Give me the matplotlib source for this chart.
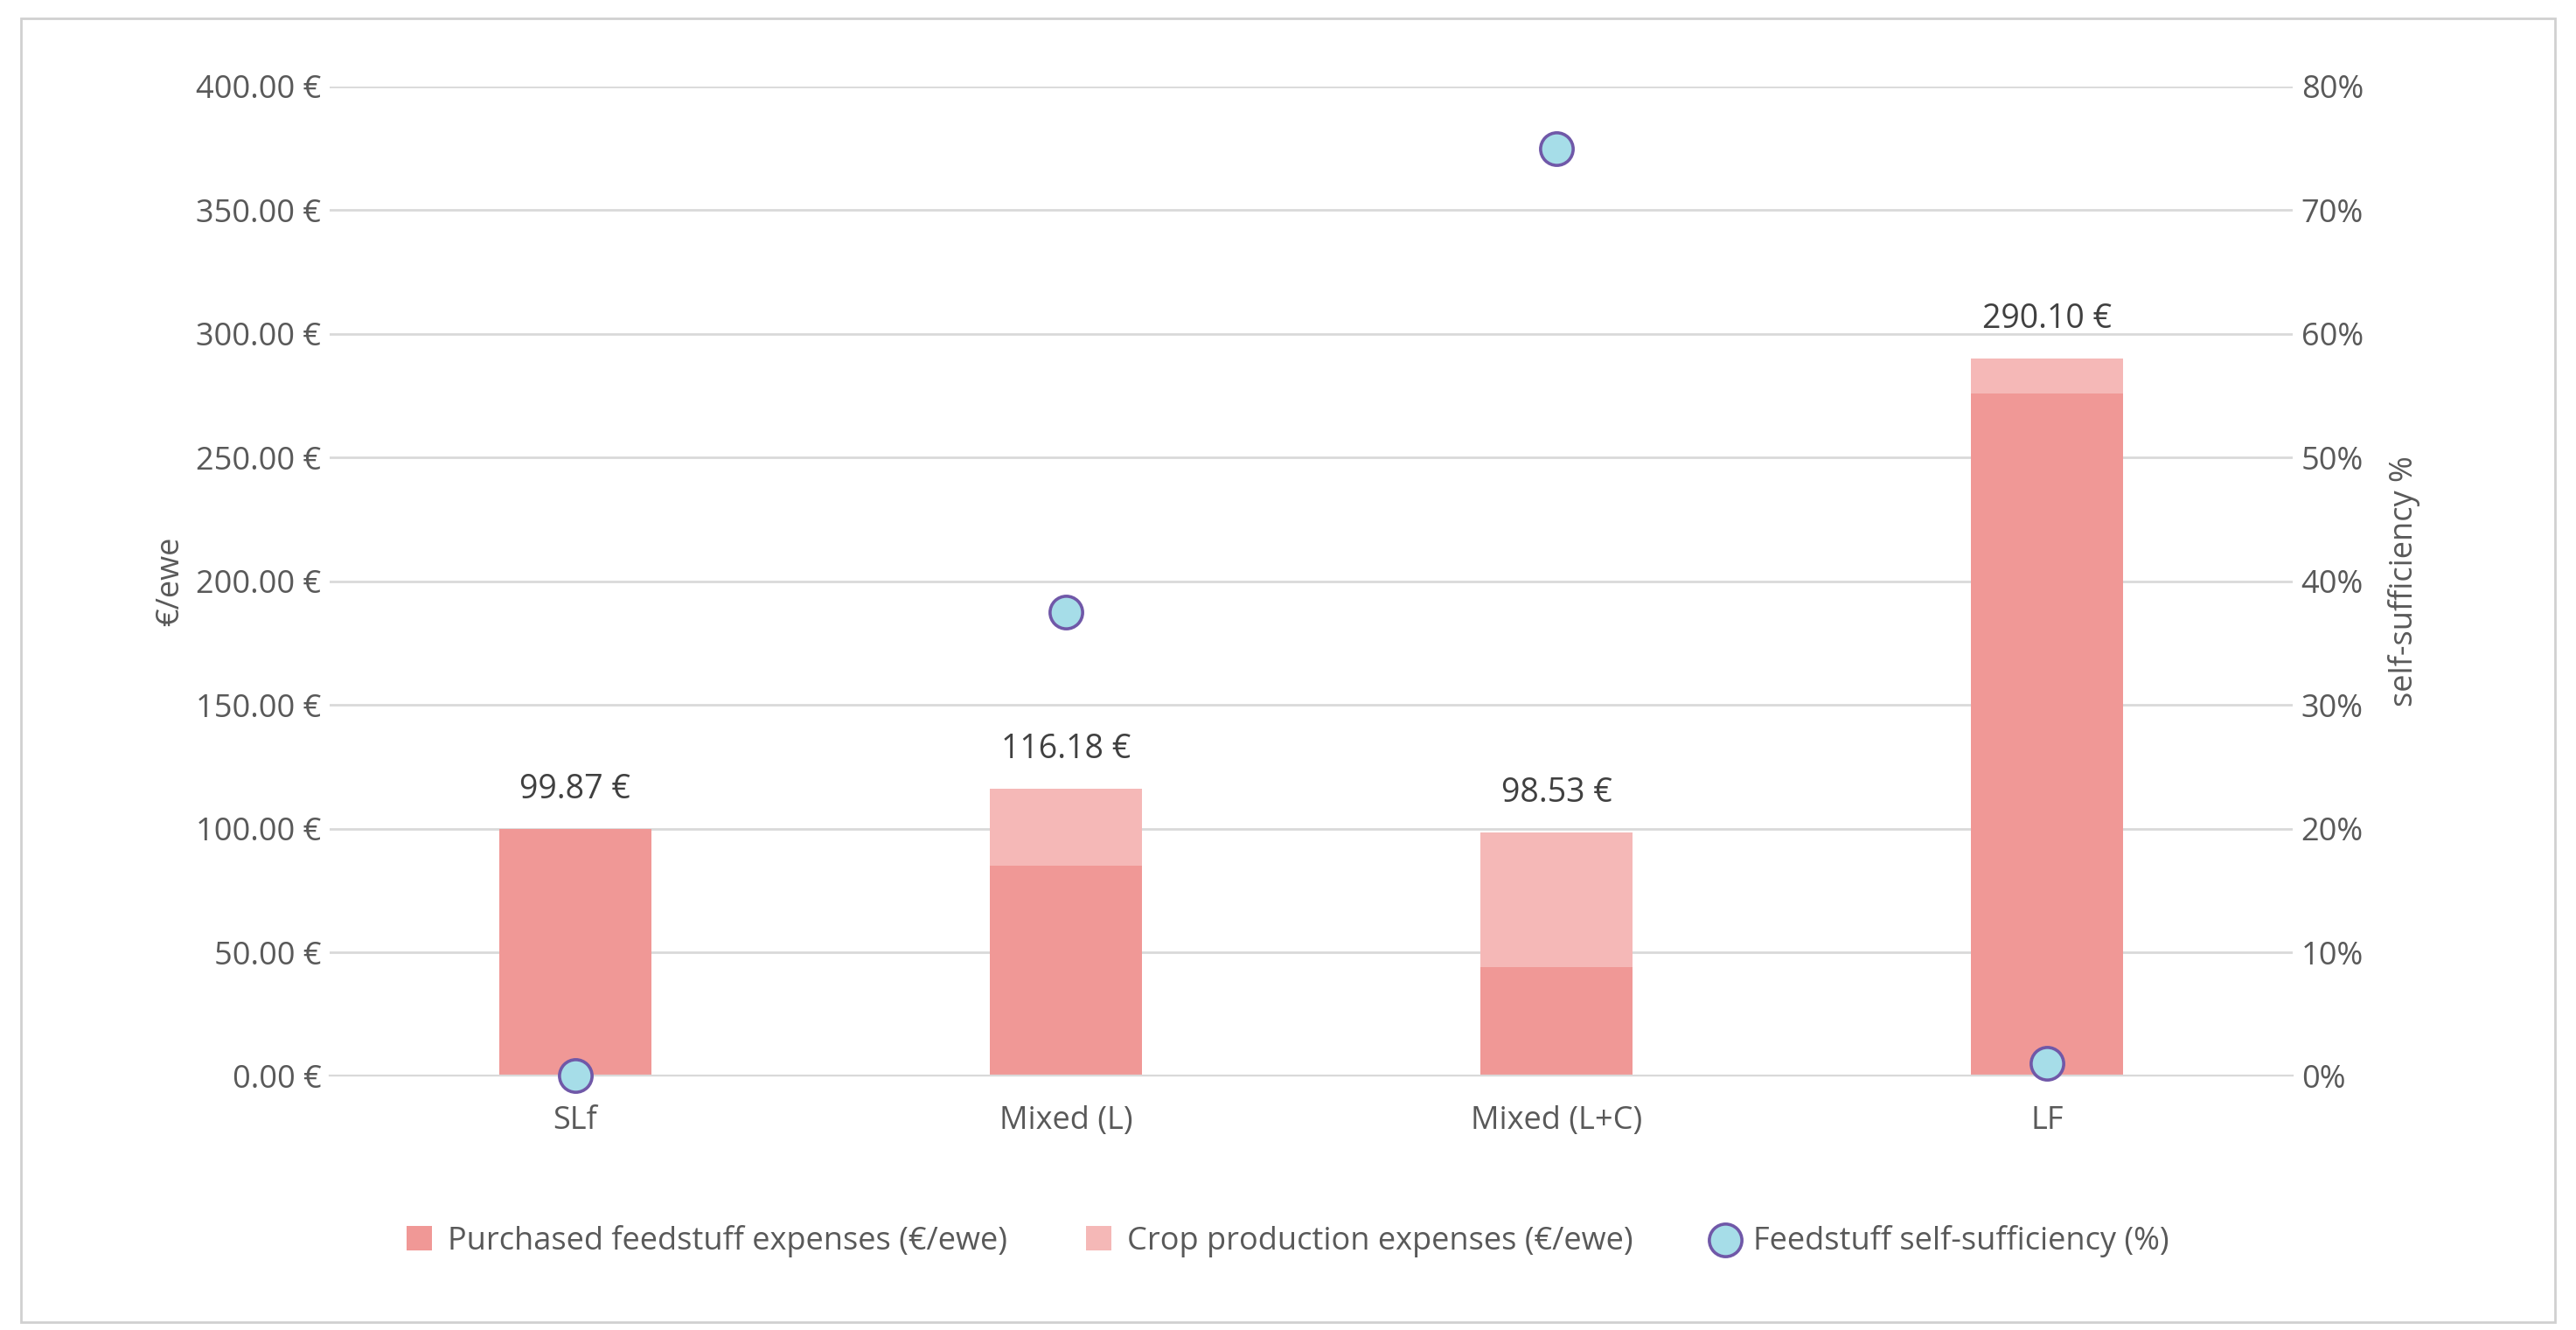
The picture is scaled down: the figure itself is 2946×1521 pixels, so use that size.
import matplotlib
matplotlib.use("Agg")
import matplotlib.pyplot as plt
from matplotlib.patches import Rectangle

categories = ["SLf", "Mixed (L)", "Mixed (L+C)", "LF"]
purchased = [99.87, 85.0, 44.0, 276.0]
crop = [0.0, 31.18, 54.53, 14.10]
totals = [99.87, 116.18, 98.53, 290.10]
self_suff = [0.0, 37.5, 75.0, 1.0]
left_ticks = [0, 50, 100, 150, 200, 250, 300, 350, 400]
right_ticks = [0, 10, 20, 30, 40, 50, 60, 70, 80]

plt.rcParams["font.family"] = "Open Sans"
fig = plt.figure(figsize=(14.73, 7.605), dpi=200)
fig.patches.append(Rectangle((0.008, 0.006), 0.984, 0.98, transform=fig.transFigure,
                             fill=False, edgecolor="#D0D0D0", linewidth=1))
ax = fig.add_axes([0.128, 0.191, 0.762, 0.744])
x = range(len(categories))
c_purch = "#F09896"
c_crop = "#F5B8B7"
ax.bar(x, purchased, width=0.31, color=c_purch, label="Purchased feedstuff expenses (€/ewe)", zorder=2)
ax.bar(x, crop, width=0.31, bottom=purchased, color=c_crop, label="Crop production expenses (€/ewe)", zorder=2)
for i, t in enumerate(totals):
    ax.text(i, t + 9, f"{t:.2f} €", ha="center", va="bottom", fontsize=13.5, color="#404040")
ax.set_ylim(0, 400)
ax.set_xlim(-0.5, 3.5)
ax.set_yticks(left_ticks)
ax.set_yticklabels([f"{v:.2f} €" for v in left_ticks])
ax.set_xticks(list(x))
ax.set_xticklabels(categories)
ax.grid(axis="y", color="#D9D9D9", linewidth=1, zorder=0)
ax.set_axisbelow(True)
for s in ax.spines.values():
    s.set_visible(False)
ax.spines["bottom"].set_visible(True)
ax.spines["bottom"].set_color("#D9D9D9")
ax.tick_params(length=0, labelsize=13, colors="#595959")
ax.tick_params(axis="x", pad=12)
ax.set_ylabel("€/ewe", fontsize=13, color="#595959")

ax2 = ax.twinx()
ax2.scatter(x, self_suff, s=180, color="#A6DDE8", edgecolor="#7058A8", linewidth=1.3,
            zorder=5, label="Feedstuff self-sufficiency (%)", clip_on=False)
ax2.set_ylim(0, 80)
ax2.set_yticks(right_ticks)
ax2.set_yticklabels([f"{v}%" for v in right_ticks])
for s in ax2.spines.values():
    s.set_visible(False)
ax2.tick_params(length=0, labelsize=13, colors="#595959")
ax2.set_ylabel("self-sufficiency %", fontsize=13, color="#595959", labelpad=10)

h1, l1 = ax.get_legend_handles_labels()
h2, l2 = ax2.get_legend_handles_labels()
fig.legend(h1 + h2, l1 + l2, loc="center", bbox_to_anchor=(0.5, 0.067), ncol=3,
           frameon=False, fontsize=13, labelcolor="#595959", handlelength=0.8,
           handleheight=0.8, columnspacing=2.5, handletextpad=0.5)
fig.savefig("out.png")
